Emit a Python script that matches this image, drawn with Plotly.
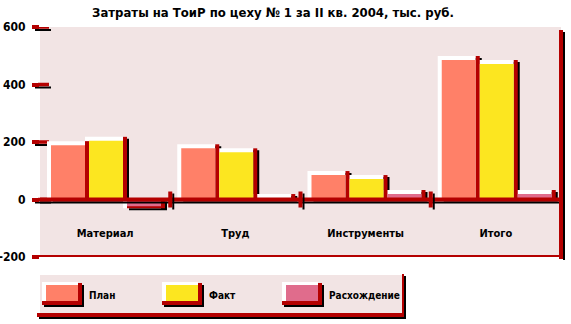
import plotly.graph_objects as go

# ---- data -------------------------------------------------------------
categories = ["Материал", "Труд", "Инструменты", "Итого"]
plan = [203, 192, 99, 499]
fact = [218, 178, 85, 485]
diff = [-30, 19, 33, 33]
series_names = ["План", "Факт", "Расхождение"]
series_colors = ["#FF8068", "#FCE620", "#E06C8C"]
y_ticks = [-200, 0, 200, 400, 600]
y_tick_labels = ["-200", "0", "200", "400", "600"]
title_text = "Затраты на ТоиР по цеху № 1 за II кв. 2004, тыс. руб."

# ---- geometry / style ---------------------------------------------------
FIG_W, FIG_H = 571, 324
L, R, T, B = 40, 10, 27, 67
PW = FIG_W - L - R
PH = FIG_H - T - B
X_RANGE = [-0.5, len(categories) - 0.5]
Y_RANGE = [-200, 600]
ux = (X_RANGE[1] - X_RANGE[0]) / PW      # x units per pixel
uy = (Y_RANGE[1] - Y_RANGE[0]) / PH      # y units per pixel

DARK = "#B40000"
BG = "#F2E4E4"
FONT = "Liberation Sans Narrow, DejaVu Sans Condensed, Arial Narrow, sans-serif"

SLOT = 38    # bar pitch, px
LEAD = 7     # gap from category start to first bar, px
BEVEL = 4    # bevel thickness, px

series = [plan, fact, diff]


def span(i, s, a, b):
    """Centre and width (x units) of a pixel strip [a, b] inside bar slot s of category i."""
    start = i - 0.5 + (LEAD + s * SLOT) * ux
    x0, x1 = start + a * ux, start + b * ux
    return (x0 + x1) / 2, x1 - x0


def layer(s, strip, extent, color):
    xs, ws, bases, lens = [], [], [], []
    for i, v in enumerate(series[s]):
        a, b = strip(v)
        lo, hi = extent(v)
        c, w = span(i, s, a, b)
        xs.append(c)
        ws.append(w)
        bases.append(lo)
        lens.append(hi - lo)
    return go.Bar(x=xs, y=lens, base=bases, width=ws, marker_color=color,
                  marker_line_width=0, showlegend=False, hoverinfo="skip")


fig = go.Figure()

# drop shadows
for s in range(3):
    fig.add_trace(layer(s, lambda v: (6, 44),
                        lambda v: (-2 * uy, v - 2 * uy), "#000000"))
# white highlight (top / left)
for s in range(3):
    fig.add_trace(layer(s, lambda v: (0, 38),
                        lambda v: (min(0, v), max(0, v)), "#FFFFFF"))
# dark red edge (right, and bottom for negative bars)
for s in range(3):
    fig.add_trace(layer(s, lambda v: (38, 42) if v >= 0 else (4, 42),
                        lambda v: (min(0, v), max(0, v)), DARK))
# face colour
for s in range(3):
    fig.add_trace(layer(s, lambda v: (BEVEL, 38),
                        lambda v: (0, v - BEVEL * uy) if v >= 0 else (v + 2 * uy, 0),
                        series_colors[s]))


def px2x(px):
    return (px - L) / PW


def py2y(py):
    return (FIG_H - B - py) / PH


shapes = []
# value-axis tick marks: shadow plus the part that reaches into the plot
for t in y_ticks:
    shapes.append(dict(type="line", xref="paper", x0=px2x(35), x1=px2x(51),
                       yref="y", ysizemode="pixel", yanchor=t, y0=-3, y1=-3,
                       line=dict(color="#000000", width=2), layer="below"))
    shapes.append(dict(type="line", xref="paper", x0=px2x(38), x1=px2x(49),
                       yref="y", y0=t, y1=t,
                       line=dict(color=DARK, width=3.5), layer="below"))
# zero line with shadow
shapes.append(dict(type="line", xref="paper", x0=0, x1=1 + 4 / PW,
                   yref="y", ysizemode="pixel", yanchor=0, y0=-3, y1=-3,
                   line=dict(color="#000000", width=2), layer="above"))
shapes.append(dict(type="line", xref="paper", x0=0, x1=1, yref="y", y0=0, y1=0,
                   line=dict(color=DARK, width=4), layer="above"))
# bottom frame line with shadow
shapes.append(dict(type="line", xref="paper", x0=px2x(35), x1=1 + 4 / PW,
                   yref="y", ysizemode="pixel", yanchor=Y_RANGE[0], y0=-3, y1=-3,
                   line=dict(color="#000000", width=2), layer="above"))
shapes.append(dict(type="line", xref="paper", x0=px2x(33), x1=1, yref="y",
                   y0=Y_RANGE[0], y1=Y_RANGE[0],
                   line=dict(color=DARK, width=4), layer="above"))
# right frame line with shadow
shapes.append(dict(type="line", xref="paper", xsizemode="pixel", xanchor=1, x0=3, x1=3,
                   yref="paper", y0=py2y(32), y1=py2y(260),
                   line=dict(color="#000000", width=2), layer="above"))
shapes.append(dict(type="line", xref="paper", x0=1, x1=1, yref="paper",
                   y0=py2y(30), y1=py2y(259),
                   line=dict(color=DARK, width=4), layer="above"))
# category separators on the zero line
for k in range(1, len(categories)):
    xb = k - 0.5
    shapes.append(dict(type="line", xref="x", xsizemode="pixel", xanchor=xb, x0=3, x1=3,
                       yref="y", ysizemode="pixel", yanchor=0, y0=-10, y1=6,
                       line=dict(color="#000000", width=2), layer="above"))
    shapes.append(dict(type="line", xref="x", xsizemode="pixel", xanchor=xb, x0=0, x1=0,
                       yref="y", ysizemode="pixel", yanchor=0, y0=-8, y1=8,
                       line=dict(color=DARK, width=4), layer="above"))


def prect(x0, y0, x1, y1, color):
    return dict(type="rect", xref="paper", yref="paper",
                x0=px2x(x0), x1=px2x(x1), y0=py2y(y1), y1=py2y(y0),
                fillcolor=color, line=dict(width=0), layer="above")


# legend panel
shapes += [
    prect(39, 276, 406, 319, "#000000"),
    prect(37, 274, 404, 317, DARK),
    prect(37, 272, 402, 313, "#FFFFFF"),
    prect(40, 275, 402, 313, BG),
]
annotations = []
for s, name in enumerate(series_names):
    ox = 120 * s
    shapes += [
        prect(44 + ox, 285, 84 + ox, 307, "#000000"),
        prect(42 + ox, 283, 82 + ox, 305, DARK),
        prect(42 + ox, 282, 78 + ox, 301, "#FFFFFF"),
        prect(46 + ox, 285, 78 + ox, 301, series_colors[s]),
    ]
    annotations.append(dict(text=name, xref="paper", yref="paper",
                            x=px2x(87 + ox), y=py2y(295), xanchor="left", yanchor="middle",
                            showarrow=False,
                            font=dict(family=FONT, size=10, color="#000000", weight="bold")))

fig.update_layout(
    width=FIG_W, height=FIG_H,
    margin=dict(l=L, r=R, t=T, b=B, pad=0, autoexpand=False),
    paper_bgcolor="#FFFFFF",
    plot_bgcolor=BG,
    barmode="overlay",
    showlegend=False,
    title=dict(text=title_text, x=273 / FIG_W, xanchor="center",
               y=1 - 12 / FIG_H, yanchor="middle",
               font=dict(family=FONT, size=13, color="#000000", weight="bold")),
    xaxis=dict(range=X_RANGE, tickvals=list(range(len(categories))), ticktext=categories,
               anchor="free", position=py2y(225), showgrid=False, zeroline=False,
               showline=False, ticks="", automargin=False,
               tickfont=dict(family=FONT, size=11, color="#000000", weight="bold")),
    yaxis=dict(range=Y_RANGE, tickvals=y_ticks, ticktext=y_tick_labels,
               showgrid=False, zeroline=False, showline=False, automargin=False,
               ticks="outside", ticklen=7, tickwidth=3.5, tickcolor=DARK,
               ticklabelstandoff=4,
               tickfont=dict(family=FONT, size=12, color="#000000", weight="bold")),
    shapes=shapes,
    annotations=annotations,
)

fig.write_html("out.html")
